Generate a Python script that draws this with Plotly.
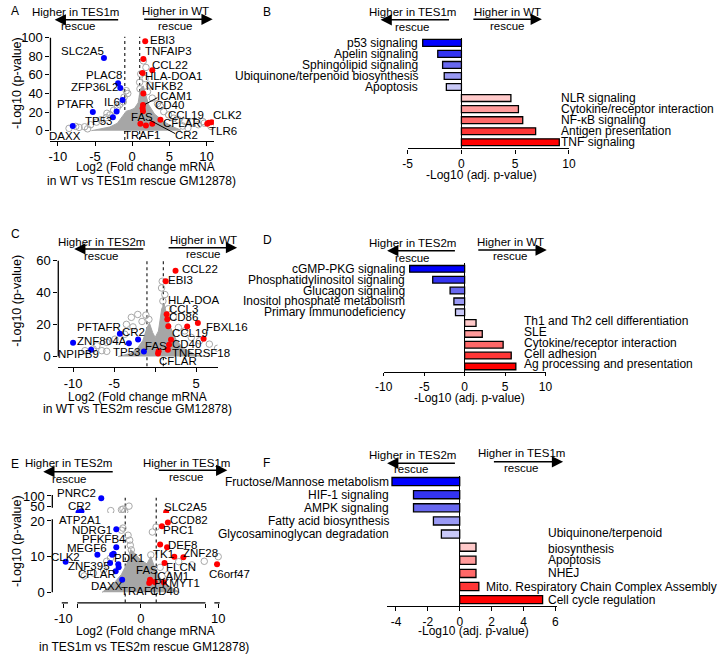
import plotly.graph_objects as go

W, H = 720, 655
FONT = "Liberation Sans, Arial, sans-serif"
RED = "#ff0000"
BLUE = "#0000ff"
GREY = "#a6a6a6"

# ---------------- A: WT vs TES1m rescue (volcano) ----------------
a_red_x = [1.75, 1.5, 2.7, 1.4, 1.5, 1.45, 1.4, 1.45, 1.1, 1.85, 3.8, 2.7, 10.7, 10.3, 10.1]
a_red_y = [96, 77, 65, 62, 40, 27.5, 24, 21, 7.4, 5.6, 11.7, 7.4, 9.2, 8.4, 7.5]
a_blue_x = [-3.8, -1.9, -1.6, -1.3, -2.1, -5.3, -2.6, -8.0]
a_blue_y = [78, 51, 46, 33, 20.5, 20, 14.5, 5]
a_grey_x = [-7.6, -7.15, -6.4, -5.6, -4.8, -4.2, -3.5, -3.4, -3.0, -2.5, -2.0, -1.7, -1.2, -1.1,
            -0.8, -0.6, 1.5, 1.85, 1.15, 1.0, 1.75, 2.3, 2.05, 1.6, 1.05, 2.7, 3.4, 3.8, 4.25,
            4.9, 5.6, 6.2, 7.1, 8.0, 8.9, 9.5, 9.7, 10.6, -6.0, -8.5, 7.5, 6.8]
a_grey_y = [4.6, 3.5, 4.2, 6.4, 9.2, 11.7, 14.1, 18.7, 17, 22, 25, 28, 31, 36,
            43, 40, 75, 68, 61, 52, 56, 49, 42, 31, 45, 35, 29, 26, 20.5,
            17, 13.4, 11.7, 9.9, 9.2, 6.4, 9.9, 8.1, 4.6, 2, 2.5, 3, 5]
# outline of the dense grey cloud of non-significant genes
a_core_x = [-5.5, -4, -3, -2, -1.3, -0.8, -0.3, 0.3, 0.8, 1.1, 1.5, 1.8, 2.2, 3, 4.2, 5.5, 6.5, 6.5]
a_core_y = [0, 2, 4, 8, 15, 21, 22, 24, 30, 45, 48, 38, 28, 18, 10, 4, 1, 0]

# ---------------- B: pathways WT vs TES1m ----------------
b_terms = ["p53 signaling", "Apelin signaling", "Sphingolipid signaling",
           "Ubiquinone/terpenoid biosynthesis", "Apoptosis", "NLR signaling",
           "Cytokine/receptor interaction", "NF-\u03baB signaling", "Antigen presentation",
           "TNF signaling"]
b_values = [-3.6, -2.2, -1.75, -1.6, -1.4, 4.6, 5.3, 5.7, 6.9, 9.1]

# ---------------- C: WT vs TES2m rescue (volcano) ----------------
c_red_x = [2.48, 1.29, 1.4, 1.48, 1.6, 3.9, 5.2, 5.9, 1.93, 1.69, 1.55, 0.42, 0.35]
c_red_y = [53.8, 47.2, 26.5, 23.4, 19, 18.8, 21.1, 11.2, 10.5, 7.4, 4.3, 3.3, 2]
c_blue_x = [-4.3, -2.08, -3.2, -10.0, -7.8, -1.37]
c_blue_y = [14.3, 10.7, 8.3, 8.7, 4.3, 3.1]
c_grey_x = [0.86, 0.78, 1.18, 0.94, -2.12, -1.13, -0.76, -2.9, -3.5, -2.7, -3.7, -4.9, -5.9,
            -7.1, -8.55, -7.55, -6.5, -5.9, 2.83, 3.6, 4.4, 5.4, 6.6, 7.6, 1.6, 2.2, -1.6]
c_grey_y = [47.2, 43, 38.9, 34.8, 26.4, 26, 23.3, 24.6, 20.2, 18.6, 14, 10.9, 8.9,
            6.8, 3.7, 4.8, 3.7, 3.3, 18.2, 16.1, 12, 9.9, 7.8, 5.2, 30, 25, 22]
c_core_x = [-4.5, -3, -2.2, -1.5, -1, -0.7, -0.3, 0, 0.4, 0.8, 1.1, 1.4, 1.9, 2.6, 3.5, 5, 6]
c_core_y = [0, 2, 5, 10, 18, 21, 15, 12, 16, 30, 33, 25, 18, 10, 5, 1, 0]

# ---------------- D: pathways WT vs TES2m ----------------
d_terms = ["cGMP-PKG signaling", "Phosphatidylinositol signaling", "Glucagon signaling",
           "Inositol phosphate metabolism", "Primary Immunodeficiency",
           "Th1 and Th2 cell differentiation", "SLE", "Cytokine/receptor interaction",
           "Cell adhesion", "Ag processing and presentation"]
d_values = [-6.8, -3.95, -1.8, -1.33, -1.13, 1.41, 2.18, 4.76, 5.76, 6.33]

# ---------------- E: TES1m vs TES2m rescue (volcano, broken y axis) ----------------
e_red_x = [3.28, 3.5, 2.73, 2.5, 3.4, 4.33, 5.5, 3.07, 9.85, 1.8, 1.09, 2.98, 1.2]
e_red_y = [23.4, 19.6, 18.5, 13.4, 12.6, 10.0, 9.8, 8.2, 7.9, 2.9, 2.6, 2.8, 3.5]
e_blue_x = [-5.1, -7.66, -8.04, -3.16, -3.16, -5.6, -3.7, -3.5, -9.7, -3.96, -2.9, -2.85, -3.24, -2.4]
e_blue_y = [88.8, 28, 22, 17.7, 12.6, 10.5, 10.5, 10.8, 8.6, 8.2, 7.9, 7.0, 5.9, 3.5]
e_grey_x = [-3.87, -2.49, -2.07, -1.52, -2.3, -2.49, -2.3, -1.35, -1.43, -1.64, -1.22, -1.0,
            1.3, 1.5, 1.98, 4.9, 6.6, 8.2, 10.0, -4.8, -6.1, -7.3, -4.4, -3.9, 2.5, 3.5]
e_grey_y = [31, 35, 27, 52, 38, 17.4, 18, 13.2, 14.6, 16, 11.9, 10,
            10.5, 16.9, 18.3, 8.6, 7.7, 8.7, 10, 6.3, 5.4, 4.6, 8.7, 9.6, 7, 5]
e_core_x = [-5, -3.5, -2.5, -1.8, -1.3, -0.8, 0, 0.8, 1.3, 1.8, 2.5, 3.5, 5]
e_core_y = [0, 2.5, 5, 8, 12, 11, 9, 8, 10, 7, 4, 2, 0]

# ---------------- F: pathways TES1m vs TES2m ----------------
f_terms = ["Fructose/Mannose metabolism", "HIF-1 signaling", "AMPK signaling",
           "Fatty acid biosynthesis", "Glycosaminoglycan degradation",
           "Ubiquinone/terpenoid biosynthesis", "Apoptosis", "NHEJ",
           "Mito. Respiratory Chain Complex Assembly", "Cell cycle regulation"]
f_values = [-4.25, -2.9, -2.9, -1.65, -1.15, 1.02, 1.02, 1.02, 1.2, 5.2]

BLUES = ["#0000ff", "#3434f2", "#6868f0", "#9a9af4", "#c9c9f8"]
REDS = ["#ffcaca", "#ff9a9a", "#ff6868", "#ff3636", "#ff0000"]


def xp(v):
    return v / W


def yp(v):
    return 1 - v / H


def xdom(a, b):
    return [a / W, b / W]


def ydom(top, bottom):
    return [1 - bottom / H, 1 - top / H]


fig = go.Figure()
shapes = []
ann = []


def volcano(xa, ya, core_x, core_y, gx, gy, rx, ry, bx, by):
    if core_x:
        fig.add_trace(go.Scatter(x=core_x, y=core_y, mode="lines", fill="toself",
                                 line=dict(color=GREY, width=1), fillcolor=GREY,
                                 xaxis=xa, yaxis=ya, hoverinfo="skip"))
    fig.add_trace(go.Scatter(x=gx, y=gy, mode="markers", xaxis=xa, yaxis=ya,
                             marker=dict(symbol="circle-open", size=6.5, color="#a8a8a8",
                                         line=dict(width=1))))
    fig.add_trace(go.Scatter(x=rx, y=ry, mode="markers", xaxis=xa, yaxis=ya,
                             marker=dict(size=6, color=RED)))
    fig.add_trace(go.Scatter(x=bx, y=by, mode="markers", xaxis=xa, yaxis=ya,
                             marker=dict(size=6, color=BLUE)))


def split(xs, ys, upper):
    pts = [(x, y) for x, y in zip(xs, ys) if (y > 21) == upper]
    return [p[0] for p in pts], [p[1] for p in pts]


volcano("x", "y", a_core_x, a_core_y, a_grey_x, a_grey_y, a_red_x, a_red_y, a_blue_x, a_blue_y)
volcano("x3", "y3", c_core_x, c_core_y, c_grey_x, c_grey_y, c_red_x, c_red_y, c_blue_x, c_blue_y)
for upper, ya in [(False, "y5"), (True, "y7")]:
    gx, gy = split(e_grey_x, e_grey_y, upper)
    rx, ry = split(e_red_x, e_red_y, upper)
    bx, by = split(e_blue_x, e_blue_y, upper)
    volcano("x5", ya, None if upper else e_core_x, e_core_y, gx, gy, rx, ry, bx, by)


def bars(xa, ya, terms, values):
    cols = BLUES + REDS
    fig.add_trace(go.Bar(x=values, y=terms, orientation="h", xaxis=xa, yaxis=ya, width=0.62,
                         marker=dict(color=cols, line=dict(color="black", width=1.3))))


bars("x2", "y2", b_terms, b_values)
bars("x4", "y4", d_terms, d_values)
bars("x6", "y6", f_terms, f_values)

# y-axis lines of volcano plots (GraphPad style, detached from the x axis)
for xa, ya, y0, y1 in [("x", "y", 0, 100), ("x3", "y3", 0, 60), ("x5", "y5", 0, 20.5),
                       ("x5", "y7", 45, 105)]:
    shapes.append(dict(type="line", xref=xa + " domain", yref=ya, x0=0, x1=0, y0=y0, y1=y1,
                       line=dict(color="black", width=1.3)))
# broken x axis of panel E
for x0, x1 in [(-10.2, -9.4), (-8.2, 8.35), (9.5, 10.2)]:
    shapes.append(dict(type="line", xref="x5", yref="y5 domain", x0=x0, x1=x1, y0=0, y1=0,
                       line=dict(color="black", width=1.3)))
# fold-change cut-offs
for xa, ya, cut, y0, y1 in [("x", "y", 1, -10, 101), ("x3", "y3", 1, -6, 61)]:
    for s in (-cut, cut):
        shapes.append(dict(type="line", xref=xa, yref=ya, x0=s, x1=s, y0=y0, y1=y1, layer="below",
                           line=dict(color="#333333", width=1.3, dash="dot")))
for s in (-2, 2):
    shapes.append(dict(type="line", xref="x5", yref="paper", x0=s, x1=s, y0=yp(603), y1=yp(497),
                       layer="below", line=dict(color="#333333", width=1.3, dash="dot")))


def text(t, x, y, size=12, xanchor="center", angle=0):
    ann.append(dict(text=t, x=xp(x), y=yp(y), xref="paper", yref="paper", showarrow=False,
                    xanchor=xanchor, yanchor="middle", textangle=angle,
                    font=dict(size=size, color="black")))


def direction(label, cx, ytxt, yline, head, tail, ycx, yresc):
    text(label, cx, ytxt, 11.5)
    text("rescue", ycx, yresc, 11.5)
    ann.append(dict(text="", x=xp(head), y=yp(yline), xref="paper", yref="paper",
                    ax=tail - head, ay=0, showarrow=True, arrowhead=2, arrowsize=1.5,
                    arrowwidth=1.5, arrowcolor="black"))


direction("Higher in TES1m", 68.3, 6, 14, 46.7, 111.7, 71, 20.7)
direction("Higher in WT", 170, 5.5, 13.5, 208.3, 138.3, 170, 20.5)
direction("Higher in TES1m", 413, 6.5, 14, 380, 450, 412.7, 21.5)
direction("Higher in WT", 510, 6, 13.5, 545, 475, 510, 20.7)
direction("Higher in TES2m", 95, 239, 245.5, 66.7, 137.3, 95, 252.7)
direction("Higher in WT", 199.3, 236.7, 244.3, 233.3, 163.3, 199.3, 250.7)
direction("Higher in TES2m", 412.7, 240, 247.3, 386.7, 456, 412.7, 254.3)
direction("Higher in WT", 512.7, 238.3, 246.7, 550, 480, 512.7, 252.3)
direction("Higher in TES2m", 61, 462.3, 470.7, 35, 106, 61.7, 477.7)
direction("Higher in TES1m", 181.7, 461.7, 469.3, 223.3, 153.3, 181.7, 475.7)
direction("Higher in TES2m", 412.7, 454, 462.3, 386.7, 456, 411.7, 468.3)
direction("Higher in TES1m", 524.3, 452.3, 460.7, 566.7, 496, 524.3, 466.7)

# panel letters
for t, x, y in [("A", 0, 5), ("B", 258, 6), ("C", 0, 230), ("D", 258, 236.7),
                ("E", 0, 463), ("F", 258, 462)]:
    text(t, x, y, 12, xanchor="left")

# axis titles
text("Log2 (Fold change mRNA", 139.3, 162.7)
text("in WT vs TES1m rescue GM12878)", 135, 176.7)
text("Log2 (Fold change mRNA", 131.7, 395)
text("in WT vs TES2m rescue GM12878)", 131.7, 407.7)
text("Log2 (Fold change mRNA", 139.3, 631.7)
text("in TES1m vs TES2m rescue GM12878)", 138, 648.3)
text("-Log10 (p-value)", 8, 78, 12.5, angle=-90)
text("-Log10 (p-value)", 8, 298, 12.5, angle=-90)
text("-Log10 (p-value)", 8, 541, 12.5, angle=-90)
text("-Log10 (adj. p-value)", 483, 171)
text("-Log10 (adj. p-value)", 471, 396.5)
text("-Log10 (adj. p-value)", 474.7, 632)

# gene labels (text, centre x px, centre y px)
gene_labels = [
    ("EBI3", 156.8, 34.3), ("TNFAIP3", 163.5, 45), ("CCL22", 165, 59.3), ("HLA-DOA1", 169, 71),
    ("NFKB2", 159.2, 81), ("ICAM1", 168.8, 90.7), ("CD40", 164.5, 100), ("CCL19", 180.8, 110),
    ("FAS", 135.8, 111.7), ("CFLAR", 176.8, 118.3), ("CR2", 181.7, 130), ("TRAF1", 136.3, 130.7),
    ("CLK2", 223.3, 110), ("TLR6", 219, 126), ("SLC2A5", 75.3, 45), ("PLAC8", 96.7, 70),
    ("ZFP36L2", 87.5, 81.7), ("IL6", 105.3, 96.7), ("PTAFR", 67.8, 99.3), ("TP53", 91.7, 116.7),
    ("DAXX", 57.5, 131.7),
    ("CCL22", 195, 265.7), ("EBI3", 175.5, 277.3), ("HLA-DOA", 188.8, 296.7), ("CCL3", 178, 306.7),
    ("CD86", 178.7, 314.3), ("FBXL16", 223, 324.3), ("CCL19", 184.7, 330.7), ("CD40", 181.7, 341.7),
    ("FAS", 150.8, 343.3), ("TNFRSF18", 196, 351), ("CFLAR", 173, 359), ("PFTAFR", 92, 324),
    ("CR2", 127.7, 330), ("ZNF804A", 94.7, 339), ("TP53", 121, 350), ("NPIPB9", 71.3, 351.7),
    ("PNRC2", 69.5, 492.7), ("CR2", 71.7, 505), ("ATP2A1", 73, 519.3), ("NDRG1", 84.7, 530),
    ("PFKFB4", 97, 538.3), ("MEGF6", 80, 547.7), ("CLK2", 58, 556.7), ("ZNF395", 82.2, 566),
    ("PDK1", 123, 557.7), ("CFLAR", 89.7, 574.3), ("DAXX", 99.8, 586), ("SLC2A5", 180.5, 506),
    ("CCD82", 184.2, 519.3), ("PRC1", 173.3, 529.3), ("DEF8", 177.5, 545), ("ZNF28", 195.8, 552.7),
    ("TK1", 158, 554), ("FLCN", 176.3, 566.7), ("FAS", 141.3, 570), ("ICAM1", 165.8, 575.7),
    ("PKMYT1", 171.7, 583.3), ("C6orf47", 225, 574), ("TRAF1", 132.5, 591.7), ("CD40", 159, 591.7),
]
for t, x, y in gene_labels:
    text(t, x, y, 11.5)

# leader lines
for x0, y0, x1, y1 in [(139.3, 99.3, 151.7, 92.7), (143.3, 115, 170, 129)]:
    shapes.append(dict(type="line", xref="paper", yref="paper", x0=xp(x0), y0=yp(y0),
                       x1=xp(x1), y1=yp(y1), line=dict(color="black", width=1)))

# pathway labels
for terms, values, ya, xneg, xpos, dy in [(b_terms, b_values, "y2", 420, 563, 0),
                                           (d_terms, d_values, "y4", 406.7, 525, 2),
                                           (f_terms, f_values, "y6", 390.7, 549, 0)]:
    for t, v in zip(terms, values):
        if v < 0:
            ann.append(dict(text=t, x=xp(xneg), y=t, xref="paper", yref=ya, showarrow=False,
                            xanchor="right", yanchor="middle", font=dict(size=12)))
        else:
            lbl, x, shift = t, xpos, dy
            if ya == "y6" and "Ubiquinone" in t:
                lbl, shift = t.replace("terpenoid ", "terpenoid<br>"), 6
            if ya == "y6" and t.startswith("Mito"):
                x = 485.7
            ann.append(dict(text=lbl, x=xp(x), y=t, xref="paper", yref=ya, showarrow=False,
                            xanchor="left", yanchor="middle", yshift=shift, align="left",
                            font=dict(size=12)))


def ax(**kw):
    base = dict(showgrid=False, zeroline=False, showline=False, linecolor="black", linewidth=1.3,
                ticks="outside", ticklen=4, tickwidth=1.3, tickcolor="black",
                tickfont=dict(size=13), fixedrange=True)
    base.update(kw)
    return base


def ticks(vals, hide=()):
    return dict(tickvals=vals,
                ticktext=["" if v in hide else ("%g" % v) for v in vals])


bar_y = dict(type="category", showticklabels=False, ticks="", showline=False)

fig.update_layout(
    width=W, height=H, margin=dict(l=0, r=0, t=0, b=0),
    paper_bgcolor="white", plot_bgcolor="white", showlegend=False,
    font=dict(family=FONT, color="black", size=12),
    xaxis=ax(domain=xdom(42.4, 209.6), range=[-11, 11], anchor="y", showline=True,
             **ticks([-10, -5, 0, 5, 10])),
    yaxis=ax(domain=ydom(30.1, 136), range=[-10.6, 102], anchor="x",
             **ticks([0, 20, 40, 60, 80, 100])),
    xaxis2=ax(domain=xdom(407.7, 572.7), range=[-5, 10], anchor="y2", showline=True,
              zeroline=True, zerolinecolor="black", zerolinewidth=1.3,
              tickfont=dict(size=12), **ticks([-5, 0, 5, 10])),
    yaxis2=ax(domain=ydom(32, 144), range=[9.56, -0.47], anchor="x2", **bar_y),
    xaxis3=ax(domain=xdom(50.4, 213.3), range=[-11.8, 7.6], anchor="y3", showline=True,
              **ticks([-10, -5, 0, 5], hide=(0,))),
    yaxis3=ax(domain=ydom(255.2, 365), range=[-6.6, 61.5], anchor="x3",
              **ticks([0, 20, 40, 60])),
    xaxis4=ax(domain=xdom(383.3, 548.7), range=[-10, 10], anchor="y4", showline=True,
              zeroline=True, zerolinecolor="black", zerolinewidth=1.3, ticklen=3,
              tickfont=dict(size=12), **ticks([-10, -5, 0, 5, 10])),
    yaxis4=ax(domain=ydom(260, 370), range=[9.52, -0.52], anchor="x4", **bar_y),
    xaxis5=ax(domain=xdom(44.3, 218.7), range=[-11.42, 10.6], anchor="y5",
              **ticks([-10, -8.2, 0, 8.35, 10], hide=(-8.2, 8.35))),
    yaxis5=ax(domain=ydom(516.9, 603.3), range=[-2.94, 21], anchor="x5",
              **ticks([0, 10, 20])),
    yaxis7=ax(domain=ydom(494.2, 512.4), range=[20, 105], anchor="x5",
              **ticks([50, 100])),
    xaxis6=ax(domain=xdom(386.8, 560.4), range=[-4.55, 6.1], anchor="y6", showline=True,
              zeroline=True, zerolinecolor="black", zerolinewidth=1.3,
              tickfont=dict(size=12), **ticks([-4, -2, 0, 2, 4, 6])),
    yaxis6=ax(domain=ydom(475, 606.7), range=[9.5, -0.43], anchor="x6", **bar_y),
    shapes=shapes, annotations=ann,
)
for i, terms in [(2, b_terms), (4, d_terms), (6, f_terms)]:
    fig.layout["yaxis%d" % i].categoryorder = "array"
    fig.layout["yaxis%d" % i].categoryarray = terms

# the page's default body margin would push the fixed-size figure off the window
fig.write_html("out.html", config={"displayModeBar": False},
               post_script="document.body.style.margin='0';"
                           "document.body.style.overflow='hidden';")
